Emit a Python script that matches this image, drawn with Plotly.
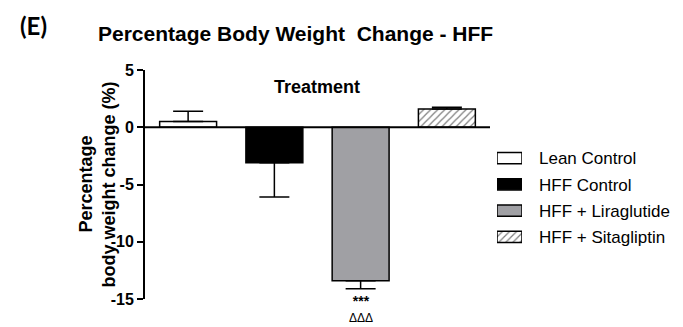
import plotly.graph_objects as go

# Groups, mean % body weight change and one-sided SEM
groups = ["Lean Control", "HFF Control", "HFF + Liraglutide", "HFF + Sitagliptin"]
mean_change = [0.5, -3.1, -13.4, 1.6]
sem_up = [0.9, 0.0, 0.0, 0.15]
sem_down = [0.0, 3.0, 0.7, 0.0]
fill_colors = ["white", "black", "#a0a0a4", "white"]
patterns = ["", "", "", "/"]

y_ticks = [5, 0, -5, -10, -15]

W, H = 683, 327


def px(x):
    return x / W


def py(y):
    return 1 - y / H


FONT = "Liberation Sans, Arial"


def font(size):
    return dict(family=FONT, size=size, color="black")


def marker_for(i):
    return dict(color=fill_colors[i],
                line=dict(color="black", width=1.5),
                pattern=dict(shape=patterns[i], fgcolor="black",
                             bgcolor="white", size=5, solidity=0.25))


fig = go.Figure()
for i, name in enumerate(groups):
    fig.add_trace(go.Bar(
        x=[i], y=[mean_change[i]], name=name, width=0.66,
        marker=marker_for(i), showlegend=False,
        error_y=dict(type="data", symmetric=False,
                     array=[sem_up[i]], arrayminus=[sem_down[i]],
                     color="black", thickness=1.5, width=15),
    ))

# legend key boxes: short horizontal bars on their own small axes
for i, name in enumerate(groups):
    fig.add_trace(go.Bar(
        x=[1], y=[i], orientation="h", width=0.42, base=0,
        marker=marker_for(i), showlegend=False, hoverinfo="skip",
        xaxis="x2", yaxis="y2",
    ))

# zero baseline spanning all groups
fig.add_shape(type="line", xref="x", yref="y", x0=-0.5, x1=3.5, y0=0, y1=0,
              line=dict(color="black", width=2))

annotations = [
    dict(text="<b>(E)</b>", x=px(33), y=py(25),
         font=dict(family="Lato, Open Sans", size=24, color="black")),
    dict(text="<b>Percentage Body Weight  Change - HFF</b>", x=px(96), y=py(34),
         xanchor="left", font=font(21)),
    dict(text="<b>Treatment</b>", x=px(317), y=py(87), font=font(18)),
    dict(text="<b>Percentage</b>", x=px(86), y=py(184.5), textangle=-90, font=font(18)),
    dict(text="<b>body weight change (%)</b>", x=px(109), y=py(184.5),
         textangle=-90, font=font(18)),
    # significance marks under the liraglutide bar
    dict(text="<b><span style='font-size:14px'>***</span></b><br>ΔΔΔ",
         x=px(361), y=py(308.5), font=font(12)),
]
legend_rows = [158, 185, 211, 237]
for name, yrow in zip(groups, legend_rows):
    annotations.append(dict(text=name, x=px(537), y=py(yrow), xanchor="left",
                            font=font(17)))
for a in annotations:
    a.setdefault("xanchor", "center")
    a["yanchor"] = "middle"
    a["xref"] = "paper"
    a["yref"] = "paper"
    a["showarrow"] = False

fig.update_layout(
    width=W, height=H,
    margin=dict(l=0, r=0, t=0, b=0, pad=0, autoexpand=False),
    paper_bgcolor="white", plot_bgcolor="white",
    showlegend=False,
    xaxis=dict(domain=[px(145), px(490)], range=[-0.5, 3.5], automargin=False,
               showticklabels=False, showline=False,
               showgrid=False, zeroline=False, ticks=""),
    yaxis=dict(domain=[py(299), py(70)], range=[-15, 5], tickvals=y_ticks,
               ticktext=[f"<b>{v}</b>" for v in y_ticks], automargin=False,
               showline=True, linecolor="black", linewidth=2,
               ticks="outside", ticklen=6, tickwidth=2, tickcolor="black",
               showgrid=False, zeroline=False, tickfont=font(16)),
    xaxis2=dict(domain=[px(497), px(522)], range=[0, 1], anchor="y2",
                visible=False, fixedrange=True, automargin=False),
    yaxis2=dict(domain=[py(250), py(145)], range=[3.5, -0.5], anchor="x2",
                visible=False, fixedrange=True, automargin=False),
    annotations=annotations,
)

fig.write_html("out.html")
